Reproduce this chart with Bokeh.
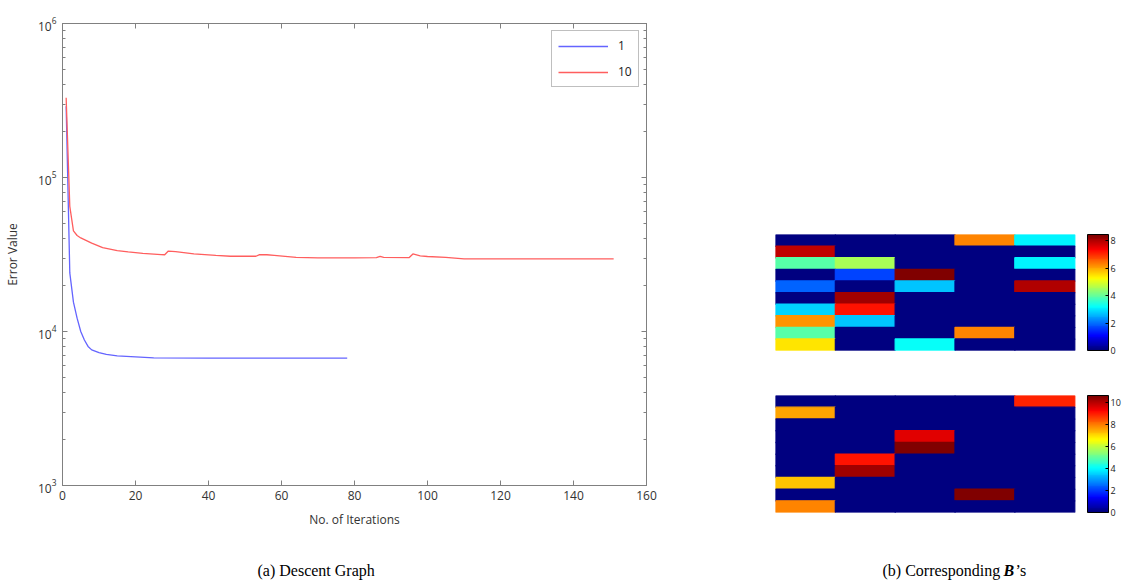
import numpy as np
from bokeh.plotting import figure
from bokeh.layouts import row, column
from bokeh.models import (ColumnDataSource, LinearColorMapper, ColorBar, Label, LinearAxis,
                          LogAxis, FixedTicker, CustomJSTickFormatter)
from bokeh.embed import file_html
from bokeh.resources import INLINE

# ---------------- data ----------------
BLUE_ITER = [1, 2, 3, 4, 5, 6, 7, 8, 10, 12, 15, 20, 25, 40, 60, 78]
BLUE_ERR = [2.9e5, 2.4e4, 1.55e4, 1.22e4, 1.0e4, 8.8e3, 8.0e3, 7.6e3, 7.3e3, 7.1e3,
            6.95e3, 6.85e3, 6.75e3, 6.72e3, 6.72e3, 6.72e3]

RED_ITER = [1, 2, 3, 4, 5, 6, 8, 11, 15, 18, 22, 27, 28, 29, 31, 36, 42, 46, 53, 54,
            56, 58, 64, 70, 80, 86, 87, 88, 95, 96, 98, 100, 105, 110, 130, 151]
RED_ERR = [3.3e5, 6.5e4, 4.5e4, 4.2e4, 4.05e4, 3.95e4, 3.75e4, 3.5e4, 3.35e4, 3.29e4,
           3.22e4, 3.16e4, 3.15e4, 3.33e4, 3.3e4, 3.19e4, 3.12e4, 3.08e4, 3.08e4, 3.16e4,
           3.15e4, 3.12e4, 3.03e4, 3.01e4, 3.01e4, 3.02e4, 3.07e4, 3.03e4, 3.02e4, 3.19e4,
           3.1e4, 3.07e4, 3.03e4, 2.96e4, 2.96e4, 2.96e4]

SERIES_LABELS = ["1", "10"]
X_TICKS = [0, 20, 40, 60, 80, 100, 120, 140, 160]
Y_DECADES = [3, 4, 5, 6]

B1_ROWS = [
    [0, 0, 0, 6.25, 3.1],
    [7.83, 0, 0, 0, 0],
    [3.92, 4.51, 0, 0, 3.1],
    [0, 1.63, 8.47, 0, 0],
    [1.86, 0, 2.65, 0, 7.98],
    [0, 8.15, 0, 0, 0],
    [2.86, 7.24, 0, 0, 0],
    [6.14, 2.65, 0, 0, 0],
    [3.92, 0, 0, 6.25, 0],
    [5.44, 0, 3.3, 0, 0],
]
B2_ROWS = [
    [0, 0, 0, 0, 8.93],
    [7.61, 0, 0, 0, 0],
    [0, 0, 0, 0, 0],
    [0, 0, 9.59, 0, 0],
    [0, 0, 10.6, 0, 0],
    [0, 9.01, 0, 0, 0],
    [0, 10.26, 0, 0, 0],
    [7.16, 0, 0, 0, 0],
    [0, 0, 0, 10.6, 0],
    [7.87, 0, 0, 0, 0],
]
B1_MAX = 8.47
B2_MAX = 10.6
CB1_TICKS = [0, 2, 4, 6, 8]
CB2_TICKS = [0, 2, 4, 6, 8, 10]

CAPTION_A = "(a) Descent Graph"
CAPTION_B = ["(b) Corresponding", "B", "\u2019s"]

# ---------------- style ----------------
FONT = "Open Sans"
SERIF = "Liberation Serif"
GRAY = "#808080"
TXT = "#333333"


def jet(n=64):
    t = np.linspace(0, 1, n)
    r = np.clip(1.5 - np.abs(4 * t - 3), 0, 1)
    g = np.clip(1.5 - np.abs(4 * t - 2), 0, 1)
    b = np.clip(1.5 - np.abs(4 * t - 1), 0, 1)
    return ["#%02x%02x%02x" % (int(round(255 * a)), int(round(255 * c)), int(round(255 * d)))
            for a, c, d in zip(r, g, b)]


JET = jet(64)


def style_axis(ax):
    ax.axis_line_color = GRAY
    ax.major_tick_line_color = GRAY
    ax.minor_tick_line_color = GRAY
    ax.major_tick_in = 5
    ax.major_tick_out = 0
    ax.minor_tick_in = 3
    ax.minor_tick_out = 0
    ax.major_label_text_font = FONT
    ax.major_label_text_font_size = "12px"
    ax.major_label_text_color = TXT
    ax.axis_label_text_font = FONT
    ax.axis_label_text_font_size = "12px"
    ax.axis_label_text_font_style = "normal"
    ax.axis_label_text_color = TXT


TOP_H = 552

# ---------------- left: descent graph ----------------
pL = figure(width=700, height=TOP_H, x_range=(0, 160), y_range=(1e3, 1e6), y_axis_type="log",
            output_backend="svg", toolbar_location=None,
            min_border_left=59, min_border_right=54, min_border_top=23, min_border_bottom=67)
pL.background_fill_color = "white"
pL.border_fill_color = "white"
pL.outline_line_color = GRAY
pL.grid.visible = False

y_major = [10.0 ** d for d in Y_DECADES]
y_minor = [m * 10.0 ** d for d in Y_DECADES[:-1] for m in range(2, 10)]

pL.xaxis.ticker = FixedTicker(ticks=X_TICKS)
pL.yaxis.ticker = FixedTicker(ticks=y_major, minor_ticks=y_minor)
pL.xaxis.axis_label = "No. of Iterations"
pL.yaxis.axis_label = "Error Value"
for ax in pL.xaxis + pL.yaxis:
    style_axis(ax)
pL.xaxis.major_label_standoff = 5
pL.xaxis.axis_label_standoff = 8
pL.yaxis.major_label_standoff = 6
pL.yaxis.axis_label_standoff = 14

blank = CustomJSTickFormatter(code="return ''")
top_ax = LinearAxis(ticker=FixedTicker(ticks=X_TICKS), formatter=blank)
right_ax = LogAxis(ticker=FixedTicker(ticks=y_major, minor_ticks=y_minor), formatter=blank)
style_axis(top_ax)
style_axis(right_ax)
top_ax.major_label_standoff = 0
right_ax.major_label_standoff = 0
pL.add_layout(top_ax, "above")
pL.add_layout(right_ax, "right")

pL.line(BLUE_ITER, BLUE_ERR, line_color="#6464ff", line_width=1.3, legend_label=SERIES_LABELS[0])
pL.line(RED_ITER, RED_ERR, line_color="#ff5e5e", line_width=1.3, legend_label=SERIES_LABELS[1])

lg = pL.legend[0]
lg.location = "top_right"
lg.margin = 7
lg.padding = 6
lg.spacing = 9
lg.glyph_width = 50
lg.glyph_height = 14
lg.label_height = 14
lg.label_width = 14
lg.label_standoff = 10
lg.label_text_font = FONT
lg.label_text_font_size = "12px"
lg.label_text_color = "#222222"
lg.border_line_color = GRAY
lg.border_line_width = 1
lg.background_fill_alpha = 1.0

# ---------------- right: B heatmaps ----------------
HEAT_PX = 302   # drawn width of the matrix
GAP_PX = 13     # white gap between matrix and its colour bar


def heat(rows, vmax, ticks, height, top, bottom):
    nr, nc = len(rows), len(rows[0])
    src = ColumnDataSource(dict(
        x=[c + 0.5 for r in range(nr) for c in range(nc)],
        y=[nr - r - 0.5 for r in range(nr) for c in range(nc)],
        v=[rows[r][c] for r in range(nr) for c in range(nc)],
    ))
    x_end = nc * (HEAT_PX + GAP_PX) / HEAT_PX
    p = figure(width=423, height=height, x_range=(0, x_end), y_range=(0, nr),
               x_axis_location=None, y_axis_location=None,
               output_backend="svg", toolbar_location=None,
               min_border_left=75, min_border_right=423 - 75 - HEAT_PX - GAP_PX,
               min_border_top=top, min_border_bottom=bottom)
    p.grid.visible = False
    p.outline_line_color = None
    p.background_fill_color = "white"
    p.border_fill_color = "white"
    mapper = LinearColorMapper(palette=JET, low=0, high=vmax)
    cmap = {"field": "v", "transform": mapper}
    p.rect(x="x", y="y", width=1, height=1, source=src, dilate=True,
           fill_color=cmap, line_color=cmap, line_width=1.2)
    cb = ColorBar(color_mapper=mapper, ticker=FixedTicker(ticks=ticks), width=21,
                  height=height - top - bottom, padding=0, margin=0,
                  major_tick_in=3, major_tick_out=0, major_tick_line_color="black",
                  label_standoff=2, bar_line_color="black", bar_line_width=1,
                  major_label_text_font=FONT, major_label_text_font_size="9px",
                  major_label_text_color="#222222")
    p.add_layout(cb, "right")
    return p


pH1 = heat(B1_ROWS, B1_MAX, CB1_TICKS, 372, 234, 22)
pH2 = heat(B2_ROWS, B2_MAX, CB2_TICKS, TOP_H - 372, 23, 40)

# ---------------- captions ----------------
CAP_H = 583 - TOP_H
pC = figure(width=1123, height=CAP_H, x_range=(0, 1123), y_range=(0, CAP_H),
            x_axis_location=None, y_axis_location=None, output_backend="svg",
            toolbar_location=None, min_border=0)
pC.grid.visible = False
pC.outline_line_color = None
pC.border_fill_color = "white"
cap_y = 13
cap_kw = dict(text_baseline="middle", text_font=SERIF, text_font_size="16px", text_color="black")
pC.add_layout(Label(x=257, y=cap_y, text=CAPTION_A, text_align="left", **cap_kw))
pC.add_layout(Label(x=882, y=cap_y, text=CAPTION_B[0], text_align="left", **cap_kw))
pC.add_layout(Label(x=1003, y=cap_y, text=CAPTION_B[1], text_align="left",
                    text_font_style="bold italic", **cap_kw))
pC.add_layout(Label(x=1015, y=cap_y, text=CAPTION_B[2], text_align="left", **cap_kw))

layout = column(row(pL, column(pH1, pH2)), pC)
open("out.html", "w").write(file_html(layout, INLINE))
